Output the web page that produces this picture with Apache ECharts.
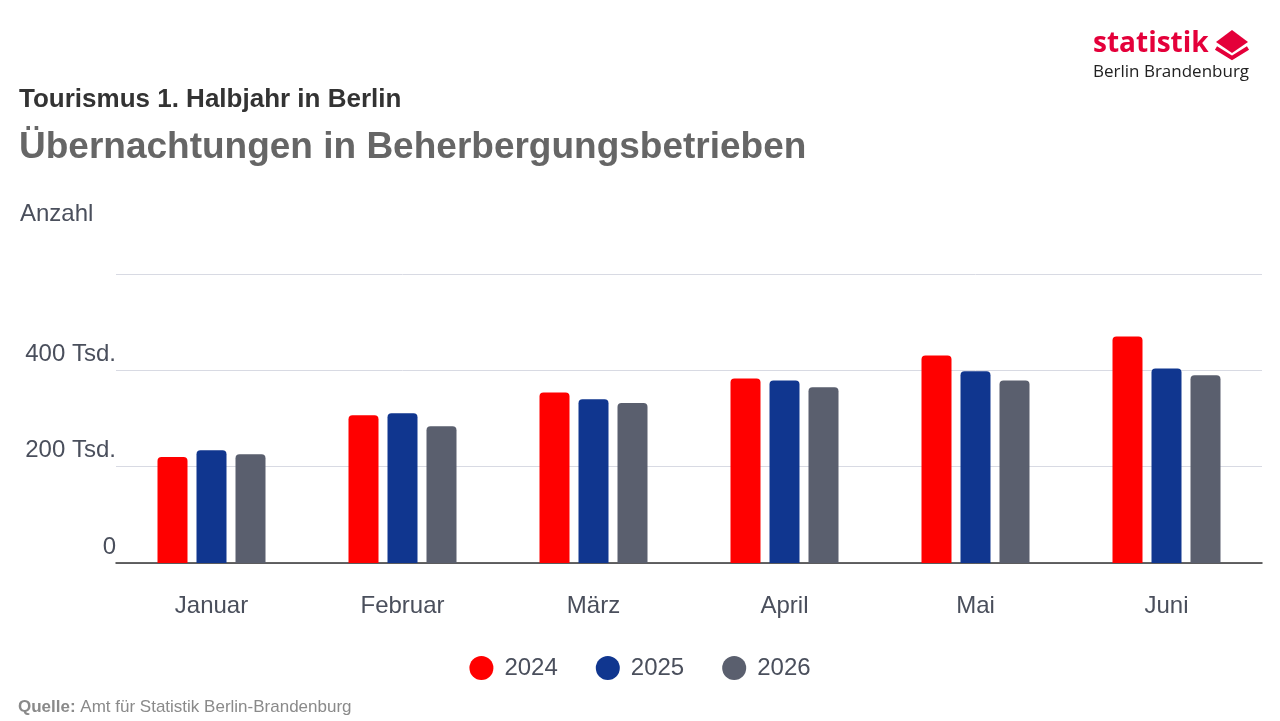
<!DOCTYPE html>
<html>
<head>
<meta charset="utf-8">
<script src="https://cdn.jsdelivr.net/npm/echarts@6/dist/echarts.min.js"></script>
<style>
  html, body { margin: 0; padding: 0; background: #fff; }
  #main { width: 1280px; height: 721px; }
</style>
</head>
<body>
<div id="main"></div>
<script>
var months = ['Januar', 'Februar', 'März', 'April', 'Mai', 'Juni'];
var years = ['2024', '2025', '2026'];
var values2024 = [220000, 307000, 354000, 383000, 431000, 470000];
var values2025 = [234000, 311000, 340000, 379000, 398000, 404000];
var values2026 = [226000, 284000, 332000, 365000, 379000, 390000];
var colors = ['#ff0000', '#10368f', '#5a5f6e'];

var font = 'Liberation Sans, Arial, sans-serif';
var myChart = echarts.init(document.getElementById('main'));

function makeSeries(name, data, color)
{
    return {
        name: name,
        type: 'bar',
        data: data,
        barWidth: 30,
        barGap: '30%',
        itemStyle: { color: color, borderRadius: [4, 4, 0, 0] }
    };
}

var option = {
    animation: false,
    textStyle: { fontFamily: font },
    grid: { left: 116, right: 18, top: 274, bottom: 158 },
    legend: {
        bottom: 36,
        left: 'center',
        icon: 'circle',
        itemWidth: 24,
        itemHeight: 24,
        itemGap: 38,
        textStyle: { fontSize: 24, color: '#4a4f5c', fontFamily: font, padding: [0, 0, 0, 6] },
        data: years
    },
    xAxis: {
        type: 'category',
        data: months,
        axisTick: { show: false },
        axisLine: { lineStyle: { color: '#333', width: 1.5 } },
        axisLabel: { fontSize: 24, color: '#4a4f5c', margin: 31 }
    },
    yAxis: {
        type: 'value',
        min: 0,
        max: 600000,
        interval: 200000,
        axisLine: { show: false },
        axisTick: { show: false },
        splitLine: { lineStyle: { color: '#d8dae3', width: 1 } },
        axisLabel: {
            fontSize: 24,
            color: '#4a4f5c',
            margin: 0,
            verticalAlign: 'bottom',
            padding: [0, 0, 4, 0],
            formatter: function (v) {
                if (v === 0) return '0';
                if (v >= 600000) return '';
                return (v / 1000) + ' Tsd.';
            }
        }
    },
    graphic: [
        {
            type: 'text', left: 19, top: 87,
            style: { text: 'Tourismus 1. Halbjahr in Berlin', fontSize: 26, fontWeight: 'bold', fill: '#333', fontFamily: font }
        },
        {
            type: 'text', left: 19, top: 129,
            style: { text: 'Übernachtungen in Beherbergungsbetrieben', fontSize: 37, fontWeight: 'bold', fill: '#666', fontFamily: font }
        },
        {
            type: 'text', left: 20, top: 202,
            style: { text: 'Anzahl', fontSize: 24, fill: '#4a4f5c', fontFamily: font }
        },
        {
            type: 'text', left: 18, top: 699,
            style: {
                text: '{b|Quelle:} Amt für Statistik Berlin-Brandenburg',
                fontSize: 17, fill: '#8a8a8a', fontFamily: font,
                rich: { b: { fontWeight: 'bold', fontSize: 17, fill: '#8a8a8a', fontFamily: font } }
            }
        },
        {
            type: 'text', left: 1093, top: 30,
            style: { text: 'statistik', fontSize: 28, fontWeight: 'bold', fill: '#e4003a', fontFamily: 'Open Sans, sans-serif' }
        },
        {
            type: 'text', left: 1093, top: 64,
            style: { text: 'Berlin Brandenburg', fontSize: 17, fill: '#222', fontFamily: 'Open Sans, sans-serif' }
        },
        {
            type: 'polyline',
            shape: { points: [[1216, 48], [1232, 58], [1248, 48]] },
            style: { stroke: '#e4003a', lineWidth: 4, fill: null }
        },
        {
            type: 'polygon',
            shape: { points: [[1232, 30], [1248, 42], [1232, 53], [1216, 42]] },
            style: { fill: '#e4003a' }
        }
    ],
    series: [
        makeSeries(years[0], values2024, colors[0]),
        makeSeries(years[1], values2025, colors[1]),
        makeSeries(years[2], values2026, colors[2])
    ]
};

myChart.setOption(option);
</script>
</body>
</html>
